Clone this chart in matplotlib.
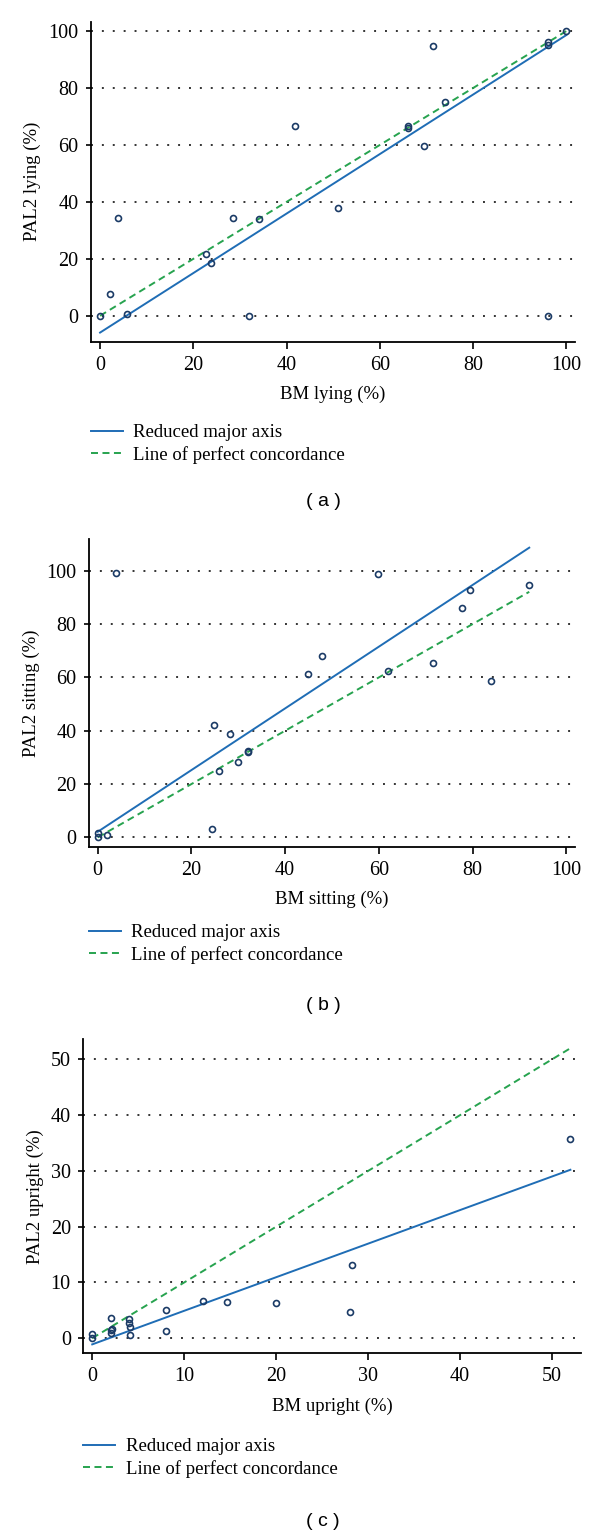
import numpy as np
import matplotlib
matplotlib.use("Agg")
import matplotlib.pyplot as plt

# === Data (BM vs PAL2, %)
lying_bm = [0, 2.1, 3.9, 5.8, 22.8, 23.8, 28.5, 32, 34, 41.9, 51, 66, 66, 69.5, 71.4, 74, 96, 96, 96, 100]
lying_pal = [0, 7.5, 34.5, 0.6, 21.8, 18.5, 34.3, 0, 34.1, 66.7, 37.9, 66.7, 66, 59.6, 94.8, 75, 96, 95.1, 0, 100]

sitting_bm = [0, 0, 2, 4, 24.4, 24.9, 25.9, 28.2, 30, 32, 32, 44.9, 47.8, 59.9, 62, 71.5, 77.8, 79.4, 84, 92.1]
sitting_pal = [0, 1.6, 1.0, 99.3, 3.3, 42.3, 24.8, 38.8, 28.4, 32.5, 32, 61.1, 68, 98.6, 62.3, 65.5, 86, 92.8, 58.8, 94.8]

upright_bm = [0, 0, 2, 2, 2, 2.2, 4, 4, 4.1, 4.1, 8, 8, 12, 14.7, 20, 28, 28.3, 52]
upright_pal = [0.7, 0, 3.7, 1.4, 1.0, 1.6, 3.5, 2.7, 2.0, 0.6, 5.1, 1.3, 6.6, 6.5, 6.3, 4.7, 13.2, 35.8]

# reduced major axis fits (intercept, slope)
rma_lying = (-5.9, 1.045)
rma_sitting = (2.1, 1.157)
rma_upright = (-1.1, 0.602)

labels_x = ["BM lying (%)", "BM sitting (%)", "BM upright (%)"]
labels_y = ["PAL2 lying (%)", "PAL2 sitting (%)", "PAL2 upright (%)"]
captions = ["( a )", "( b )", "( c )"]
legend_labels = ["Reduced major axis", "Line of perfect concordance"]

# === Style
W, H = 600, 1536
serif = ["Liberation Serif", "DejaVu Serif"]
sans = ["Liberation Sans", "DejaVu Sans"]
plt.rcParams["font.family"] = serif

blue = "#1f6db5"
green = "#27a34f"
navy = "#1b3b66"

# axes boxes in pixels: left, right, top, bottom
boxes = [(91.2, 574.7, 21.7, 341.7), (89.3, 574.7, 539.3, 846.7), (83.4, 580.5, 1039.3, 1353.3)]
limits = [((-1.9, 101.8), (-9.1, 103.3)), ((-1.8, 101.8), (-3.5, 111.8)), ((-0.96, 53.1), (-2.7, 53.6))]
ticks = [np.arange(0, 101, 20), np.arange(0, 101, 20), np.arange(0, 51, 10)]
legend_top = [424, 924, 1438]
caption_y = [501, 1005, 1522]

panels = [
    (lying_bm, lying_pal, rma_lying),
    (sitting_bm, sitting_pal, rma_sitting),
    (upright_bm, upright_pal, rma_upright),
]

fig = plt.figure(figsize=(W / 100, H / 100), dpi=100)

for i, (bm, pal, rma) in enumerate(panels):
    l, r, t, b = boxes[i]
    ax = fig.add_axes([l / W, 1 - b / H, (r - l) / W, (b - t) / H])
    bm = np.array(bm)
    pal = np.array(pal)

    ax.plot(bm, pal, "o", ms=4.3, mfc="none", mec=navy, mew=1.2, zorder=3)
    xs = np.array([bm.min(), bm.max()])
    ax.plot(xs, rma[0] + rma[1] * xs, color=blue, lw=1.4, label=legend_labels[0], zorder=2)
    ax.plot(xs, xs, color=green, lw=1.4, ls=(0, (3.6, 2.3)), label=legend_labels[1], zorder=2)

    ax.set_xlim(*limits[i][0])
    ax.set_ylim(*limits[i][1])
    ax.set_xticks(ticks[i])
    ax.set_yticks(ticks[i])
    ax.yaxis.grid(True, color="#333333", lw=1.4, ls=(0, (1, 4.6)))
    ax.set_axisbelow(True)

    for side in ["top", "right"]:
        ax.spines[side].set_visible(False)
    for side in ["left", "bottom"]:
        ax.spines[side].set_linewidth(1.3)
    ax.tick_params(axis="x", length=5, width=1.2, pad=5, labelsize=14.5)
    ax.tick_params(axis="y", length=3.6, width=1.2, pad=5.5, labelsize=14.5)

    ax.set_xlabel(labels_x[i], fontsize=13.5, labelpad=8)
    ax.set_ylabel(labels_y[i], fontsize=13.5, labelpad=5)

    handles, labs = ax.get_legend_handles_labels()
    fig.legend(handles, labs, loc="upper left",
               bbox_to_anchor=(l / W, 1 - legend_top[i] / H), bbox_transform=fig.transFigure,
               frameon=False, fontsize=13.5, borderpad=0, borderaxespad=0,
               handlelength=1.7, handletextpad=0.55, labelspacing=0.25)

    fig.text(323 / W, 1 - caption_y[i] / H, captions[i], ha="center", va="center",
             fontsize=14, family=sans)

fig.savefig("out.png", dpi=100)
